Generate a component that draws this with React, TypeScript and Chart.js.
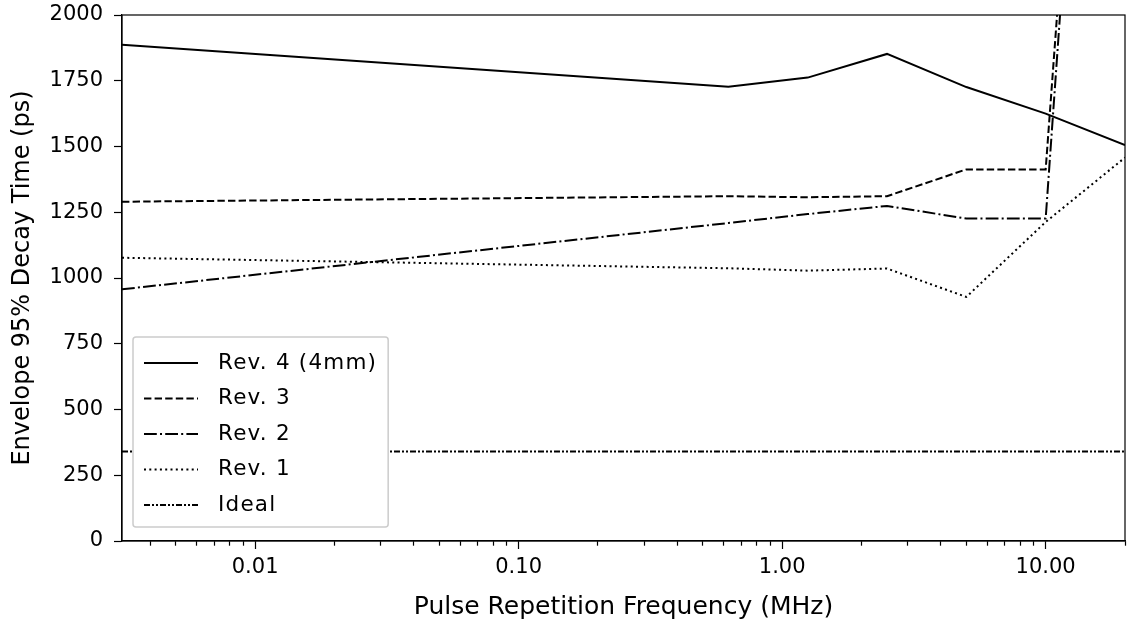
import React, { useEffect, useRef } from 'react';
import { Chart, registerables } from 'chart.js';

Chart.register(...registerables);

// ---- data ----
const freqMHz = [0.003125, 0.625, 1.25, 2.5, 5, 10, 20];
const rev4 = [1887, 1727, 1762, 1852, 1726, 1625, 1505];
const rev3 = [1290, 1311, 1307, 1311, 1413, 1413, 5500];
const rev2 = [957, 1209, 1243, 1274, 1226, 1226, 5500];
const rev1 = [1077, 1037, 1028, 1036, 928, 1213, 1458];
const ideal = [340, 340, 340, 340, 340, 340, 340];

const seriesLabels = ['Rev. 4 (4mm)', 'Rev. 3', 'Rev. 2', 'Rev. 1', 'Ideal'];

const xMajorTicks = [0.01, 0.1, 1, 10];
const xMinorTicks = [
  0.004, 0.005, 0.006, 0.007, 0.008, 0.009,
  0.02, 0.03, 0.04, 0.05, 0.06, 0.07, 0.08, 0.09,
  0.2, 0.3, 0.4, 0.5, 0.6, 0.7, 0.8, 0.9,
  2, 3, 4, 5, 6, 7, 8, 9, 20,
];
const xMin = 0.003125;
const xMax = 20;
const yMin = 0;
const yMax = 2000;
const yStep = 250;

const xTitle = 'Pulse Repetition Frequency (MHz)';
const yTitle = 'Envelope 95% Decay Time (ps)';

const FONT = '"DejaVu Sans", sans-serif';

const toPoints = (ys: number[]) => freqMHz.map((x, i) => ({ x, y: ys[i] }));

const framePlugin = {
  id: 'frameBox',
  afterDatasetsDraw(chart: any) {
    const { ctx, chartArea } = chart;
    ctx.save();
    ctx.strokeStyle = '#000';
    ctx.lineWidth = 1.2;
    ctx.setLineDash([]);
    ctx.strokeRect(chartArea.left, chartArea.top, chartArea.right - chartArea.left, chartArea.bottom - chartArea.top);
    ctx.restore();
  },
};

const boxLegendPlugin = {
  id: 'boxLegend',
  afterDatasetsDraw(chart: any) {
    const { ctx, chartArea } = chart;
    const ds = chart.data.datasets;
    const fontSize = 21.5;
    ctx.save();
    ctx.font = `${fontSize}px ${FONT}`;
    try { (ctx as any).letterSpacing = '1.2px'; } catch (e) { /* ignore */ }
    const maxW = Math.max(...ds.map((d: any) => ctx.measureText(d.label).width));
    const rowH = 35.5;
    const left = chartArea.left + 11;
    const bottom = chartArea.bottom - 14;
    const height = rowH * (ds.length - 1) + 48;
    const top = bottom - height;
    const width = 85 + maxW + 11;
    const r = 3;
    ctx.beginPath();
    ctx.moveTo(left + r, top);
    ctx.lineTo(left + width - r, top);
    ctx.arcTo(left + width, top, left + width, top + r, r);
    ctx.lineTo(left + width, bottom - r);
    ctx.arcTo(left + width, bottom, left + width - r, bottom, r);
    ctx.lineTo(left + r, bottom);
    ctx.arcTo(left, bottom, left, bottom - r, r);
    ctx.lineTo(left, top + r);
    ctx.arcTo(left, top, left + r, top, r);
    ctx.closePath();
    ctx.fillStyle = '#fff';
    ctx.fill();
    ctx.strokeStyle = '#cccccc';
    ctx.lineWidth = 1.5;
    ctx.stroke();
    ds.forEach((d: any, i: number) => {
      const y = top + 26 + i * rowH;
      ctx.beginPath();
      ctx.setLineDash(d.borderDash || []);
      ctx.lineCap = 'butt';
      ctx.lineWidth = d.borderWidth;
      ctx.strokeStyle = d.borderColor;
      ctx.moveTo(left + 11, y);
      ctx.lineTo(left + 65, y);
      ctx.stroke();
      ctx.setLineDash([]);
      ctx.fillStyle = '#000';
      ctx.textBaseline = 'middle';
      ctx.textAlign = 'left';
      ctx.fillText(d.label, left + 85, y);
    });
    ctx.restore();
  },
};

const dashes: number[][] = [
  [],
  [7.4, 3.2],
  [12.8, 3.2, 2, 3.2],
  [2, 3.3],
  [6, 2, 2, 2, 2, 2],
];

export default function App() {
  const ref = useRef<HTMLCanvasElement>(null);

  useEffect(() => {
    const canvas = ref.current;
    if (!canvas) return;
    Chart.defaults.font.family = FONT;
    Chart.defaults.color = '#000';
    const seriesValues = [rev4, rev3, rev2, rev1, ideal];
    const chart = new Chart(canvas, {
      type: 'line',
      data: {
        datasets: seriesValues.map((vals, i) => ({
          label: seriesLabels[i],
          data: toPoints(vals),
          borderColor: '#000',
          backgroundColor: '#000',
          borderWidth: 2,
          borderDash: dashes[i],
          borderCapStyle: 'butt',
          pointRadius: 0,
          tension: 0,
          fill: false,
        })),
      },
      options: {
        responsive: false,
        animation: false,
        devicePixelRatio: 1,
        layout: { padding: { left: 0, top: 15, right: 8, bottom: 0 } },
        plugins: {
          legend: { display: false },
          tooltip: { enabled: false },
        },
        scales: {
          x: {
            type: 'logarithmic',
            min: xMin,
            max: xMax,
            afterBuildTicks: (scale: any) => {
              const all = [...xMajorTicks, ...xMinorTicks].sort((a, b) => a - b);
              scale.ticks = all.map((v) => ({ value: v, major: xMajorTicks.includes(v) }));
            },
            afterFit: (scale: any) => {
              scale.height = 85;
              scale.paddingLeft = 0;
              scale.paddingRight = 0;
            },
            ticks: {
              autoSkip: false,
              maxRotation: 0,
              minRotation: 0,
              padding: 6,
              font: { size: 21, family: FONT },
              color: '#000',
              callback: (value: any) => {
                const v = Number(value);
                return xMajorTicks.includes(v) ? v.toFixed(2) : '';
              },
            },
            grid: {
              display: true,
              drawOnChartArea: false,
              drawTicks: true,
              tickLength: 8,
              tickColor: '#000',
              tickWidth: 1.2,
              tickBorderDash: (ctx: any) =>
                ctx.tick && xMajorTicks.includes(ctx.tick.value) ? [] : [4.5, 100],
            },
            border: { display: true, color: '#000', width: 1.2 },
            title: {
              display: true,
              text: xTitle,
              color: '#000',
              font: { size: 25, family: FONT },
              padding: { top: 0, bottom: 4 },
            },
          },
          y: {
            type: 'linear',
            min: yMin,
            max: yMax,
            afterFit: (scale: any) => {
              scale.width = 122;
              scale.paddingTop = 0;
              scale.paddingBottom = 0;
            },
            ticks: {
              stepSize: yStep,
              padding: 11,
              font: { size: 21, family: FONT },
              color: '#000',
              callback: (value: any) => String(value),
            },
            grid: {
              display: true,
              drawOnChartArea: false,
              drawTicks: true,
              tickLength: 8,
              tickColor: '#000',
              tickWidth: 1.2,
            },
            border: { display: true, color: '#000', width: 1.2 },
            title: {
              display: true,
              text: yTitle,
              color: '#000',
              font: { size: 24, family: FONT },
              padding: { top: 8, bottom: 0 },
            },
          },
        },
      },
      plugins: [framePlugin, boxLegendPlugin],
    } as any);
    return () => chart.destroy();
  }, []);

  return (
    <div style={{ position: 'absolute', left: 0, top: 0, width: 1133, height: 626, background: '#fff' }}>
      <canvas ref={ref} width={1133} height={626} style={{ display: 'block' }} />
    </div>
  );
}
